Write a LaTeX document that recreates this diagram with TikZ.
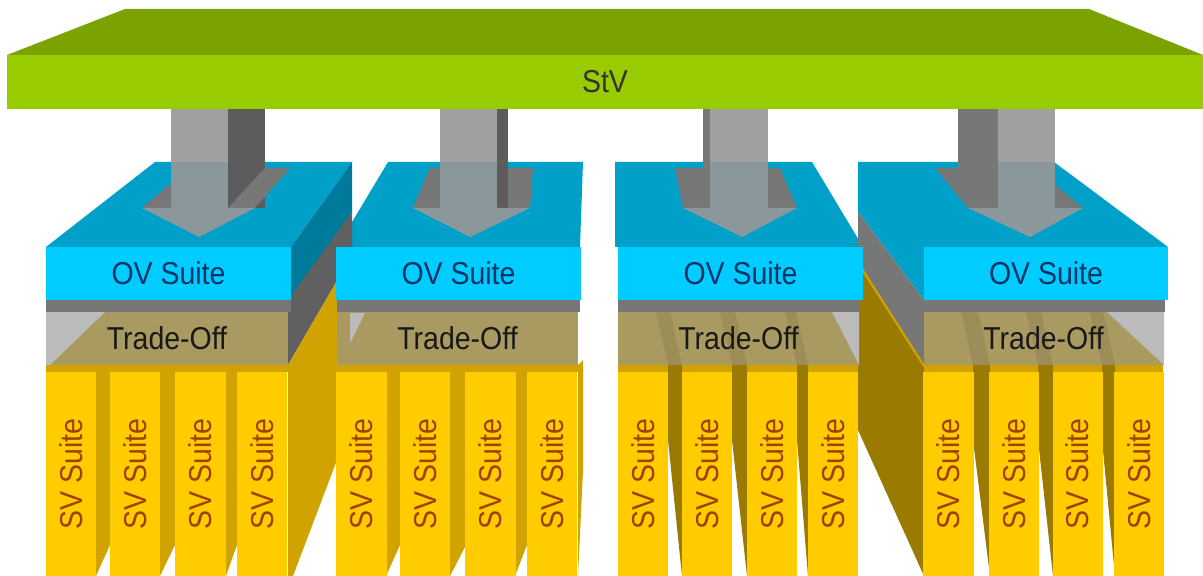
\documentclass[tikz,border=0pt]{standalone}
\usepackage{fontspec}
\newfontfamily\diafont[FakeStretch=0.9]{Liberation Sans}
\definecolor{stvtop}{HTML}{7BA300}
\definecolor{stvfront}{HTML}{99CC00}
\definecolor{stvtext}{HTML}{333333}
\definecolor{ovtop}{HTML}{00A0C8}
\definecolor{ovfront}{HTML}{00CCFF}
\definecolor{ovside}{HTML}{007A9A}
\definecolor{ovtext}{HTML}{003366}
\definecolor{arrowlight}{HTML}{A0A0A0}
\definecolor{arrowglass}{HTML}{8A979B}
\definecolor{arrowdark}{HTML}{5C5C5C}
\definecolor{midgray}{HTML}{777777}
\definecolor{tradefront}{HTML}{A89A60}
\definecolor{tradestripe}{HTML}{9B8E58}
\definecolor{tradelight}{HTML}{BBBBBB}
\definecolor{tradeside}{HTML}{606060}
\definecolor{svfront}{HTML}{FFCC00}
\definecolor{svside}{HTML}{D0A300}
\definecolor{svshade}{HTML}{9A7A00}
\definecolor{svtext}{HTML}{A04000}

\begin{document}
\begin{tikzpicture}[x=0.01cm,y=-0.01cm,
  face/.style={inner sep=0pt, font=\diafont\fontsize{9}{10}\selectfont},
  stvface/.style={face, fill=stvfront, text=stvtext, minimum width=11.96cm, minimum height=0.54cm},
  ovface/.style={face, fill=ovfront, text=ovtext, minimum width=2.44cm, minimum height=0.53cm},
  tradeface/.style={face, text=black!90, minimum width=2.41cm, minimum height=0.53cm},
  svbar/.style={face, fill=svfront, text=svtext, rotate=90, minimum width=2.04cm, minimum height=0.5cm}]

\useasboundingbox (0,0) rectangle (1203,576);

\fill[stvtop] (7,55) -- (125,9) -- (1089,9) -- (1203,55) -- cycle;
\node[stvface] (stv) at (605,82) {StV};

\fill[ovtop] (46,247) -- (155,162) -- (352,162) -- (291,247) -- cycle;
\fill[ovtop] (337,247) -- (388,162) -- (583,162) -- (580,247) -- cycle;
\fill[ovtop] (615,162) -- (812,162) -- (863,247) -- (615,247) -- cycle;
\fill[ovtop] (858,162) -- (1054,162) -- (1168,247) -- (924,247) -- (924,300) -- (858,212) -- cycle;

\fill[ovside] (291,247) -- (352,162) -- (352,212) -- (291,300) -- cycle;
\fill[tradeside] (288,300) -- (352,212) -- (352,255) -- (288,365) -- cycle;
\fill[svside] (288,365) -- (352,255) -- (337,460) -- (293,576) -- (288,576) -- cycle;
\fill[midgray] (858,212) -- (924,300) -- (924,365) -- (858,263) -- cycle;
\fill[svshade] (858,263) -- (924,365) -- (924,576) -- (858,430) -- cycle;
\draw[svside, line width=0.6pt] (860,266) -- (924,366);
\fill[svside] (578,365) -- (583,360) -- (583,470) -- (578,576) -- cycle;

\fill[arrowlight] (171,109) rectangle (228,162);
\fill[arrowglass] (171,162) rectangle (228,208);
\fill[arrowdark] (228,109) rectangle (265,208);
\fill[midgray] (228,208) -- (265,168) -- (290,168) -- (255,208) -- cycle;
\fill[midgray] (142,208) -- (171,183) -- (171,208) -- cycle;
\fill[arrowglass] (142,208) -- (199,237) -- (255,208) -- cycle;

\fill[midgray] (413,208) -- (430,168) -- (440,168) -- (440,208) -- cycle;
\fill[midgray] (497,208) -- (497,168) -- (533,168) -- (530,208) -- cycle;
\fill[arrowlight] (440,109) rectangle (497,162);
\fill[arrowglass] (440,162) rectangle (497,208);
\fill[arrowdark] (497,109) rectangle (508,208);
\fill[arrowglass] (413,208) -- (470,237) -- (530,208) -- cycle;

\fill[midgray] (675,168) -- (712,168) -- (712,208) -- (683,208) -- cycle;
\fill[midgray] (768,168) -- (780,168) -- (797,208) -- (768,208) -- cycle;
\fill[arrowlight] (710,109) rectangle (768,162);
\fill[arrowglass] (710,162) rectangle (768,208);
\fill[midgray] (703,109) rectangle (710,208);
\fill[arrowglass] (683,208) -- (742,237) -- (797,208) -- cycle;

\fill[midgray] (935,168) -- (998,168) -- (998,208) -- (968,208) -- cycle;
\fill[midgray] (1055,185) -- (1083,208) -- (1055,208) -- cycle;
\fill[midgray] (958,109) rectangle (998,168);
\fill[arrowlight] (998,109) rectangle (1055,162);
\fill[arrowglass] (998,162) rectangle (1055,208);
\fill[arrowglass] (968,208) -- (1030,237) -- (1083,208) -- cycle;

\node[ovface] (ov1) at (168.5,273.5) {OV Suite};
\node[ovface] (ov2) at (458.5,273.5) {OV Suite};
\node[ovface] (ov3) at (740.5,273.5) {OV Suite};
\node[ovface] (ov4) at (1046,273.5) {OV Suite};

\fill[midgray] (46,300) rectangle (291,312);
\fill[midgray] (337,300) rectangle (580,312);
\fill[midgray] (618,300) rectangle (860,312);
\fill[midgray] (924,300) rectangle (1165,312);

\fill[tradefront] (46,312) rectangle (288,365);
\fill[tradefront] (337,312) rectangle (578,365);
\fill[tradefront] (618,312) rectangle (859,365);
\fill[tradefront] (924,312) rectangle (1164,365);

\fill[tradelight] (46,312) -- (105,312) -- (50,365) -- (46,365) -- cycle;
\fill[tradelight] (350,313) -- (365,313) -- (350,343) -- cycle;
\fill[tradelight] (832,312) -- (859,312) -- (859,365) -- cycle;
\fill[tradelight] (1107,312) -- (1164,312) -- (1164,365) -- cycle;
\foreach \a/\b in {668/682, 732/747, 797/808, 973/990, 1038/1053, 1102/1115}
  \fill[tradestripe] (\a,365) -- (\b,365) -- (\b-12,312) -- (\a-12,312) -- cycle;

\node[tradeface] (trade1) at (167,338.5) {Trade-Off};
\node[tradeface] (trade2) at (457.5,338.5) {Trade-Off};
\node[tradeface] (trade3) at (738.5,338.5) {Trade-Off};
\node[tradeface] (trade4) at (1043.5,338.5) {Trade-Off};

\fill[svside] (46,365) rectangle (288,372);
\fill[svside] (337,365) rectangle (578,372);
\fill[svside] (618,365) rectangle (858,372);
\fill[svside] (924,365) rectangle (1163,372);

\foreach \a/\b in {96/110, 160/175, 226/237, 386/400, 450/466, 515/527}
  \fill[svside] (\a,365) -- (\b,365) -- (\b,545) -- (\a,576) -- cycle;
\foreach \a/\b in {668/682, 732/747, 797/808, 973/990, 1038/1053, 1102/1115}
  \fill[svshade] (\a,365) -- (\b,365) -- (\b,576) -- (\a,440) -- cycle;

\node[svbar] (sv11) at (71,474) {SV Suite};
\node[svbar] (sv12) at (135,474) {SV Suite};
\node[svbar] (sv13) at (200.5,474) {SV Suite};
\node[svbar] (sv14) at (262,474) {SV Suite};
\node[svbar] (sv21) at (361.5,474) {SV Suite};
\node[svbar] (sv22) at (425,474) {SV Suite};
\node[svbar] (sv23) at (490.5,474) {SV Suite};
\node[svbar] (sv24) at (552,474) {SV Suite};
\node[svbar] (sv31) at (643,474) {SV Suite};
\node[svbar] (sv32) at (707,474) {SV Suite};
\node[svbar] (sv33) at (772,474) {SV Suite};
\node[svbar] (sv34) at (833,474) {SV Suite};
\node[svbar] (sv41) at (948.5,474) {SV Suite};
\node[svbar] (sv42) at (1014,474) {SV Suite};
\node[svbar] (sv43) at (1077.5,474) {SV Suite};
\node[svbar] (sv44) at (1139,474) {SV Suite};

\end{tikzpicture}
\end{document}
